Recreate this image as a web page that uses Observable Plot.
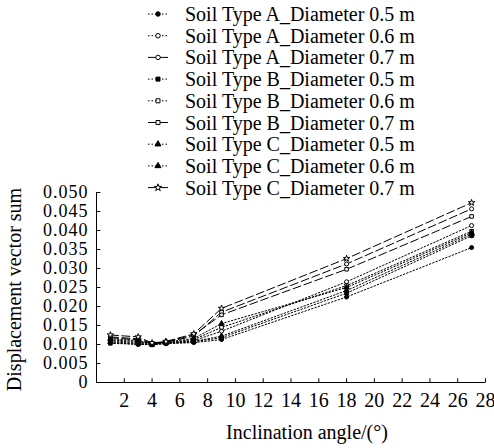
<!DOCTYPE html>
<html><head><meta charset="utf-8">
<script src="https://cdn.jsdelivr.net/npm/d3@7"></script>
<script src="https://cdn.jsdelivr.net/npm/@observablehq/plot@0.6"></script>
<style>
body{margin:0;background:#fff;}
#wrap{position:relative;width:494px;height:448px;}
#legend{position:absolute;left:0;top:0;}
svg text{font-family:'Liberation Serif','Times New Roman','DejaVu Serif',serif !important;}
</style></head><body><div id="wrap"><div id="chart"></div><svg id="legend" width="494" height="200"></svg></div>
<script>
const angles = [1, 3, 4, 5, 7, 9, 18, 27];
const seriesNames = [
  "Soil Type A_Diameter 0.5 m", "Soil Type A_Diameter 0.6 m", "Soil Type A_Diameter 0.7 m",
  "Soil Type B_Diameter 0.5 m", "Soil Type B_Diameter 0.6 m", "Soil Type B_Diameter 0.7 m",
  "Soil Type C_Diameter 0.5 m", "Soil Type C_Diameter 0.6 m", "Soil Type C_Diameter 0.7 m"
];
const A05 = [0.0105, 0.0100, 0.0100, 0.0102, 0.0105, 0.0113, 0.0225, 0.0355];
const A06 = [0.0110, 0.0105, 0.0101, 0.0104, 0.0110, 0.0135, 0.0265, 0.0413];
const A07 = [0.0120, 0.0115, 0.0103, 0.0106, 0.0122, 0.0185, 0.0312, 0.0457];
const B05 = [0.0103, 0.0101, 0.0099, 0.0103, 0.0107, 0.0118, 0.0235, 0.0386];
const B06 = [0.0112, 0.0108, 0.0102, 0.0105, 0.0113, 0.0145, 0.0255, 0.0398];
const B07 = [0.0118, 0.0112, 0.0102, 0.0107, 0.0125, 0.0178, 0.0298, 0.0437];
const C05 = [0.0107, 0.0103, 0.0100, 0.0104, 0.0108, 0.0122, 0.0242, 0.0390];
const C06 = [0.0115, 0.0110, 0.0101, 0.0106, 0.0116, 0.0155, 0.0250, 0.0394];
const C07 = [0.0125, 0.0120, 0.0104, 0.0108, 0.0128, 0.0195, 0.0326, 0.0473];
const seriesValues = [A05, A06, A07, B05, B06, B07, C05, C06, C07];
const xTicks = [2, 4, 6, 8, 10, 12, 14, 16, 18, 20, 22, 24, 26, 28];
const yTicks = [0, 0.005, 0.010, 0.015, 0.020, 0.025, 0.030, 0.035, 0.040, 0.045, 0.050];
const xLabel = "Inclination angle/(°)";
const yLabel = "Displacement vector sum";

// styles
const dashes = ["1.5,2", "1.5,2", "8,3.5", "1.5,2", "1.5,2", "8,3.5", "1.5,2", "1.5,2", "8,3.5"];
const symbols = ["circle", "circle", "circle", "square", "square", "square", "triangle", "triangle", "star"];
const fills = ["black", "white", "white", "black", "white", "white", "black", "black", "white"];

const rows = [];
seriesNames.forEach((s, i) => angles.forEach((a, j) => rows.push({series: s, idx: i, x: a, y: seriesValues[i][j]})));

const FONT = "'Liberation Serif','Times New Roman',serif";
const marks = [
  Plot.ruleX([0], {stroke: "black"}),
  Plot.ruleY([0], {stroke: "black"}),
  Plot.link(yTicks, {x1: 0, x2: 0.28, y1: d => d, y2: d => d, stroke: "black"}),
  Plot.link(xTicks, {x1: d => d, x2: d => d, y1: 0, y2: 0.0011, stroke: "black"}),
  Plot.axisY({ticks: yTicks, tickSize: 0, tickPadding: 8, label: null, fontSize: 18,
    tickFormat: d => d === 0 ? "0" : d.toFixed(3)}),
  Plot.axisX({ticks: xTicks, tickSize: 0, tickPadding: 10, label: null}),
  Plot.text([xLabel], {frameAnchor: "bottom", dy: 56, dx: 16, text: d => d}),
  Plot.text([yLabel], {frameAnchor: "left", dx: -82, dy: 2, rotate: -90, textAnchor: "middle", text: d => d})
];
seriesNames.forEach((s, i) => {
  const d = rows.filter(r => r.idx === i);
  marks.push(Plot.line(d, {x: "x", y: "y", stroke: "black", strokeWidth: 1, strokeDasharray: dashes[i]}));
});
seriesNames.forEach((s, i) => {
  const d = rows.filter(r => r.idx === i);
  marks.push(Plot.dot(d, {x: "x", y: "y", symbol: () => symbols[i], r: 2, fill: fills[i], stroke: "black", strokeWidth: 1}));
});

const chart = Plot.plot({
  width: 494, height: 448,
  marginLeft: 96, marginRight: 9, marginTop: 192, marginBottom: 66,
  x: {domain: [0, 28]},
  y: {domain: [0, 0.05]},
  symbol: {type: "identity"},
  style: {fontFamily: FONT, fontSize: "20px", color: "black", background: "white"},
  marks
});
document.getElementById("chart").appendChild(chart);
// widen the y tick labels a little, as in the reference
d3.select(chart).selectAll('[aria-label="y-axis tick label"] text').style("letter-spacing", "1px");

// legend
const lg = d3.select("#legend");
const sym = {circle: d3.symbolCircle, square: d3.symbolSquare, triangle: d3.symbolTriangle, star: d3.symbolStar};
seriesNames.forEach((s, i) => {
  const y = 14 + i * 21.7;
  lg.append("line").attr("x1", 148).attr("x2", 168).attr("y1", y).attr("y2", y)
    .attr("stroke", "black").attr("stroke-dasharray", dashes[i] === "8,3.5" ? null : "1.5,2");
  lg.append("path").attr("d", d3.symbol(sym[symbols[i]], 16)()).attr("transform", `translate(158,${y})`)
    .attr("fill", fills[i]).attr("stroke", "black");
  lg.append("text").attr("x", 185).attr("y", y).attr("dy", "0.35em")
    .attr("font-size", 20).text(s);
});
</script></body></html>
